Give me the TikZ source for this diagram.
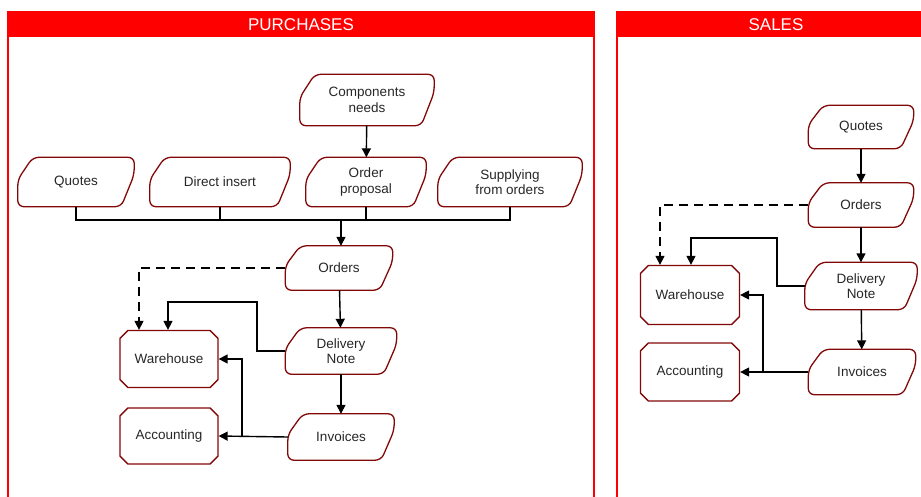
\documentclass[tikz,border=0pt]{standalone}
\usepackage{fontspec}
\usepackage{tikz}
\usetikzlibrary{positioning,arrows.meta,shapes.misc,calc}
\newfontfamily\flowfont{Liberation Sans}
\definecolor{rimred}{RGB}{130,8,8}
\definecolor{headred}{RGB}{255,0,0}

\begin{document}
\begin{tikzpicture}[x=1pt, y=-1pt,
    data/.style={minimum height=46, inner sep=2pt, align=center,
        font=\flowfont\fontsize{13.5}{15.5}\selectfont, text=black!85,
        append after command={\pgfextra{\let\datanode=\tikzlastnode
            \draw[rimred, line width=1.3pt, rounded corners=6pt]
                ([xshift=15]\datanode.north west) -- (\datanode.north east)
                -- ($(\datanode.north east)!0.35!(\datanode.south east)$)
                -- ([xshift=-13]\datanode.south east) -- (\datanode.south west)
                -- ($(\datanode.south west)!0.55!(\datanode.north west)$) -- cycle;}}},
    store/.style={chamfered rectangle, chamfered rectangle xsep=5pt, draw=rimred,
        line width=1.3pt, minimum width=98, minimum height=57, inner sep=2pt,
        font=\flowfont\fontsize{13.5}{15.5}\selectfont, text=black!85},
    header/.style={fill=headred, text=white, inner sep=0pt, minimum height=25,
        font=\flowfont\fontsize{17}{20}\selectfont},
    panel/.style={draw=headred, line width=1.5pt},
    arrow/.style={-{Triangle[length=9pt,width=9pt]}, line width=1.4pt},
    line/.style={line width=1.4pt}
]
    \useasboundingbox (0,0) rectangle (921,496);
    \clip (0,0) rectangle (921,496);

    % panels
    \draw[panel] (8,12) rectangle (594,520);
    \draw[panel] (617,12) rectangle (935,520);
    \node[header, minimum width=586] (purchhead) at (301,24.5) {PURCHASES};
    \node[header, minimum width=318] (saleshead) at (776,24.5) {SALES};

    % purchases
    \node[data, minimum width=134, minimum height=51] (pcomp) at (367,100) {Components\\needs};
    \node[data, minimum width=116, minimum height=49] (pquotes) at (76,182) {Quotes};
    \node[data, minimum width=140, minimum height=49] (pdirect) at (220,182) {Direct insert};
    \node[data, minimum width=120, minimum height=49] (pprop) at (366,182) {Order\\proposal};
    \node[data, minimum width=144, minimum height=49] (psupply) at (510,182) {Supplying\\from orders};
    \node[data, minimum width=107, minimum height=44] (porders) at (339,268) {Orders};
    \node[data, minimum width=111] (pnote) at (341,351) {Delivery\\Note};
    \node[data, minimum width=106] (pinv) at (341,437) {Invoices};
    \node[store] (pwh) at (169,359) {Warehouse};
    \node[store, minimum height=56] (pacc) at (169,436) {Accounting};

    \coordinate (pbus) at (341,220);
    \coordinate (pnotebend) at (257,302);
    \coordinate (pinvjoin) at (242,437);

    \draw[arrow] (pcomp) -- (pprop);
    \draw[line] (pquotes.south) |- (pbus) -| (psupply.south);
    \draw[line] (pdirect.south) -- (pdirect.south |- pbus);
    \draw[line] (pprop.south) -- (pprop.south |- pbus);
    \draw[arrow] (pbus) -- (pbus |- porders.north);
    \draw[arrow, dashed, dash pattern=on 9pt off 6pt] (porders.west) -| ([xshift=-30]pwh.north);
    \draw[arrow] (porders) -- (pnote);
    \draw[arrow] (pnote.west) -| (pnotebend) -| ([xshift=-1]pwh.north);
    \draw[arrow] (pnote) -- (pinv);
    \draw[arrow] (pinv.west) -- (pacc.east);
    \draw[arrow] (pinvjoin) |- (pwh.east);

    % sales
    \node[data, minimum width=105, minimum height=43] (squotes) at (861,127) {Quotes};
    \node[data, minimum width=105, minimum height=44] (sorders) at (861,205) {Orders};
    \node[data, minimum width=112, minimum height=47] (snote) at (861,286) {Delivery\\Note};
    \node[data, minimum width=107, minimum height=45] (sinv) at (862,372) {Invoices};
    \node[store, minimum width=99, minimum height=59] (swh) at (690,295) {Warehouse};
    \node[store, minimum width=99, minimum height=58] (sacc) at (690,372) {Accounting};

    \coordinate (snotebend) at (777,238);
    \coordinate (sinvjoin) at (763,372);

    \draw[arrow] (squotes) -- (sorders);
    \draw[arrow, dashed, dash pattern=on 9pt off 6pt] (sorders.west) -| ([xshift=-30]swh.north);
    \draw[arrow] (sorders) -- (snote);
    \draw[arrow] (snote.west) -| (snotebend) -| ([xshift=1]swh.north);
    \draw[arrow] (snote) -- (sinv);
    \draw[arrow] (sinv.west) -- (sacc.east);
    \draw[arrow] (sinvjoin) |- (swh.east);
\end{tikzpicture}
\end{document}
